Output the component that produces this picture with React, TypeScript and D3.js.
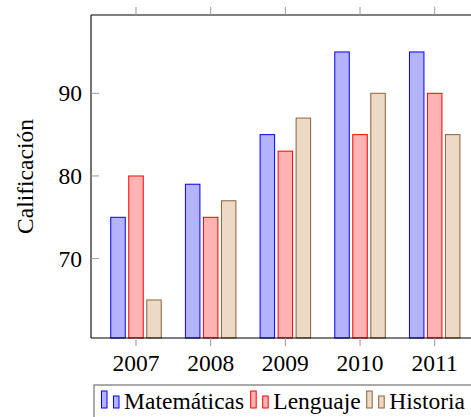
import React from "react";
import * as d3 from "d3";

const years = [2007, 2008, 2009, 2010, 2011];
const matematicas = [75, 79, 85, 95, 95];
const lenguaje = [80, 75, 83, 85, 90];
const historia = [65, 77, 87, 90, 85];
const yTicks = [70, 80, 90];
const seriesNames = ["Matemáticas", "Lenguaje", "Historia"];
const fills = ["#b3b3ff", "#ffb3b3", "#ecd9c6"];
const strokes = ["#0000ff", "#ff0000", "#8c6239"];

export default function App() {
  const W = 471, H = 417;
  const left = 91, top = 15, bottom = 338, right = 479.7;
  const x = d3.scaleLinear().domain([2007 - 0.6027, 2011 + 0.6027]).range([left, right]);
  const y = d3.scaleLinear().domain([60.4, 99.47]).range([bottom, top]);
  const series = [matematicas, lenguaje, historia];
  const barW = 14.5;
  const offsets = [-18, 0, 18];
  const fs = 23.5;
  const legendX = [101.5, 250.7, 366.7];
  const textStyle: React.CSSProperties = { fontFamily: "Liberation Serif, Times New Roman, Times, serif" };

  return (
    <svg width={W} height={H} style={{ position: "fixed", left: 0, top: 0, background: "#fff" }}>
      <rect x={0} y={0} width={W} height={H} fill="#fff" />
      {series.map((vals, si) =>
        vals.map((v, i) => (
          <rect key={`${si}-${i}`}
            x={x(years[i]) + offsets[si] - barW / 2}
            y={y(v)}
            width={barW}
            height={bottom - y(v)}
            fill={fills[si]}
            stroke={strokes[si]}
            strokeWidth={1} />
        ))
      )}
      <line x1={left} x2={right} y1={top} y2={top} stroke="#000" strokeWidth={1.1} />
      <line x1={left} x2={right} y1={bottom} y2={bottom} stroke="#000" strokeWidth={1.1} />
      <line x1={left} x2={left} y1={top} y2={bottom} stroke="#000" strokeWidth={1.1} />
      {years.map((yr) => (
        <g key={yr}>
          <line x1={x(yr)} x2={x(yr)} y1={top - 8} y2={top} stroke="#999" strokeWidth={1} />
          <line x1={x(yr)} x2={x(yr)} y1={bottom} y2={bottom + 8} stroke="#999" strokeWidth={1} />
          <text x={x(yr)} y={371} textAnchor="middle" fontSize={fs} fill="#000" style={textStyle}>{yr}</text>
        </g>
      ))}
      {yTicks.map((t) => (
        <g key={t}>
          <line x1={left} x2={left + 8} y1={y(t)} y2={y(t)} stroke="#999" strokeWidth={1} />
          <text x={82} y={y(t) + 8} textAnchor="end" fontSize={fs} fill="#000" style={textStyle}>{t}</text>
        </g>
      ))}
      <text transform={`translate(33,${(top + bottom) / 2}) rotate(-90)`} textAnchor="middle"
        fontSize={fs} fill="#000" style={textStyle}>Calificación</text>
      <rect x={94} y={385} width={420} height={60} fill="#fff" stroke="#555" strokeWidth={1} />
      {seriesNames.map((name, si) => (
        <g key={name} transform={`translate(${legendX[si]},0)`}>
          <rect x={0} y={391} width={5.5} height={17} fill={fills[si]} stroke={strokes[si]} strokeWidth={1} />
          <rect x={12} y={396} width={5.5} height={12} fill={fills[si]} stroke={strokes[si]} strokeWidth={1} />
          <text x={22.6} y={408.5} fontSize={fs} fill="#000" style={textStyle}>{name}</text>
        </g>
      ))}
    </svg>
  );
}
